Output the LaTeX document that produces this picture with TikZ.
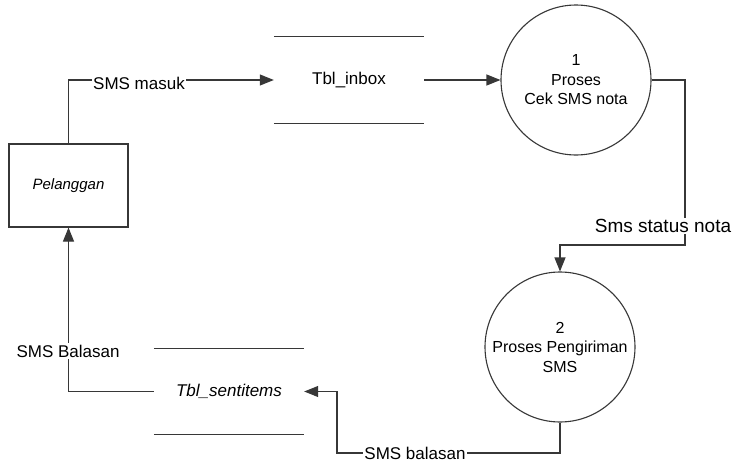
\documentclass[tikz,border=0pt]{standalone}
\usepackage{fontspec}
\setmainfont{Liberation Sans}
\usepackage{tikz}
\usetikzlibrary{arrows.meta,positioning}
\definecolor{dfdline}{RGB}{55,55,55}
\tikzstyle{arrow} = [line width=1.1pt,-{Triangle[length=14pt,width=11pt]},color=dfdline]
\tikzstyle{flow} = [line width=1.1pt,color=dfdline]
\tikzstyle{proses} = [circle, draw=dfdline, line width=1.1pt, minimum size=150pt, inner sep=0pt, align=center, font=\fontsize{16}{19.5}\selectfont]
\tikzstyle{entitas} = [rectangle, draw=dfdline, line width=1.1pt, minimum width=119pt, minimum height=83pt, font=\fontsize{15}{17}\selectfont\itshape]
\tikzstyle{simpan} = [rectangle, minimum width=150pt, minimum height=86pt, font=\fontsize{17}{19}\selectfont]
\tikzstyle{lbl} = [fill=white, inner sep=1.5pt, font=\fontsize{17}{19}\selectfont]

\begin{document}
\begin{tikzpicture}[x=1pt,y=-1pt]
\useasboundingbox (0,0) rectangle (745,463);
% Entitas dan proses
\node[entitas] (pelanggan) at (68.5,185.5) {Pelanggan};
\node[proses] (proses1) at (576,80) {1\\Proses\\Cek SMS nota};
\node[proses] (proses2) at (560,347) {2\\Proses Pengiriman\\SMS};
% Data store
\node[simpan] (inbox) at (349,80) {Tbl\_inbox};
\node[simpan, font=\fontsize{17}{19}\selectfont\itshape] (sent) at (229,391.5) {Tbl\_sentitems};
\draw[flow] (inbox.north west) -- (inbox.north east) (inbox.south west) -- (inbox.south east);
\draw[flow] (sent.north west) -- (sent.north east) (sent.south west) -- (sent.south east);
% Aliran data
\coordinate (belok1) at (685,245);
\coordinate (belok2) at (337,453);
\draw[arrow] (pelanggan.north) |- (inbox.west);
\draw[arrow] (inbox.east) -- (proses1.west);
\draw[arrow] (proses1.east) -| (belok1) -| (proses2.north);
\draw[arrow] (proses2.south) |- (belok2) |- (sent.east);
\draw[arrow] (sent.west) -| (pelanggan.south);
% Label aliran
\node[lbl] (lblmasuk) at (139,83) {SMS masuk};
\node[lbl, font=\fontsize{19}{21}\selectfont] (lblstatus) at (663,226) {Sms status nota};
\node[lbl] (lblbalasan) at (415,453) {SMS balasan};
\node[lbl] (lblBalasan) at (68,351) {SMS Balasan};
\end{tikzpicture}
\end{document}
